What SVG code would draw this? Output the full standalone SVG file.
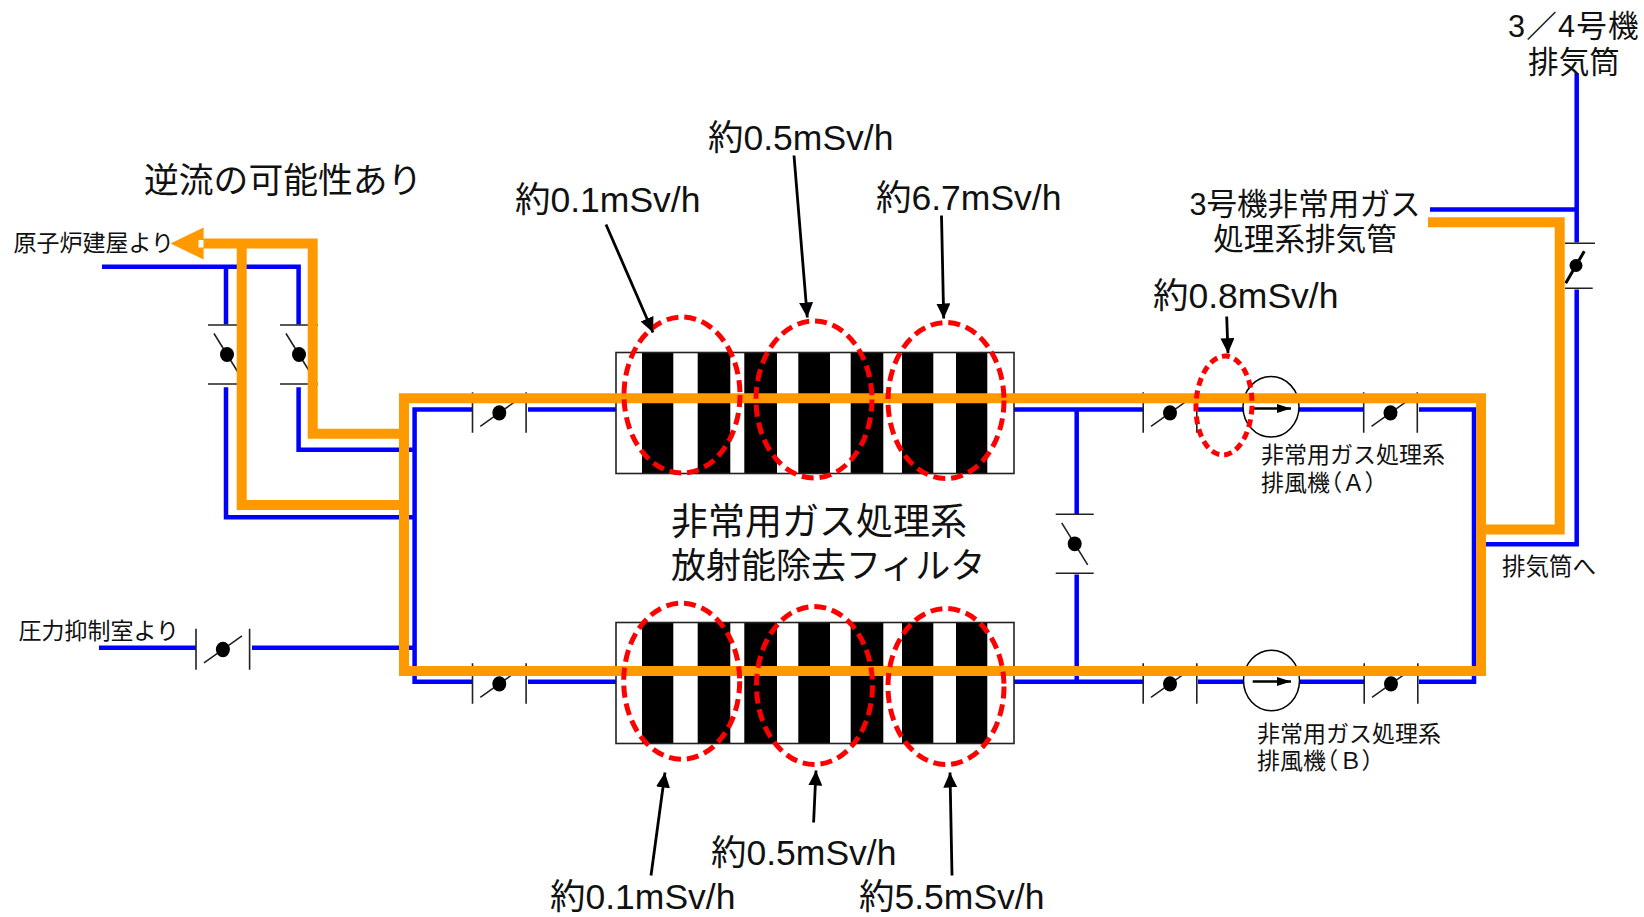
<svg xmlns="http://www.w3.org/2000/svg" width="1644" height="917" viewBox="0 0 1644 917">
<style>
text{font-family:"Liberation Sans","Noto Sans CJK JP",sans-serif;fill:#111}
.l{font-size:35.5px}.m{font-size:30.6px}.s{font-size:23px}.c{font-size:37px}.t{font-size:34.8px}
.p{font-feature-settings:"palt";letter-spacing:3px}
.b{fill:none;stroke:#00f;stroke-width:4.5}
.o{fill:none;stroke:#f90;stroke-width:10;stroke-linejoin:miter}
.f{stroke:#222;stroke-width:1.6;fill:none}
.k{fill:#000}
.e{fill:none;stroke:#f00;stroke-width:5;stroke-dasharray:12 6}
.a{stroke:#000;stroke-width:2.8;fill:none;marker-end:url(#h)}
.fa{fill:#fff;stroke:#000;stroke-width:1.5}
</style>
<defs>
<marker id="h" markerUnits="userSpaceOnUse" markerWidth="18" markerHeight="16" refX="15" refY="7" orient="auto"><path d="M0 0L15 7L0 14Z" fill="#000"/></marker>
<marker id="hf" markerUnits="userSpaceOnUse" markerWidth="16" markerHeight="10" refX="14" refY="4.5" orient="auto"><path d="M0 0L14 4.5L0 9Z" fill="#000"/></marker>
<g id="vh"><path class="f" d="M-26.8 -20.5V20M26.8 -20.5V20M-19 13.5L19 -13.5"/><ellipse rx="7" ry="7.6" class="k"/></g>
<g id="vv"><path class="f" d="M-19 -29.5H19M-19 29.5H19M-13 -21L13 21"/><ellipse rx="7" ry="7.4" class="k"/></g>
<g id="bars"><path class="k" d="M642 0H673.3V121H642ZM697.7 0H730.3V121H697.7ZM744.3 0H777V121H744.3ZM798.3 0H830V121H798.3ZM850.7 0H883.3V121H850.7ZM902 0H933.3V121H902ZM956 0H987.3V121H956Z"/><rect x="616" y="0" width="398" height="121" class="f"/></g>
</defs>
<rect width="1644" height="917" fill="#fff"/>
<g transform="translate(0 .5)">
<g id="connectors">
<path class="b" d="M102 266.3H298.6V324M226 266.3V324M298.6 386.7V449.3H414.6M226 386.7V516.7H414.6"/>
<path class="b" d="M99 647.3H196M252 647.3H414.6"/>
<path class="b" d="M472 409H414.6V681.3H472M528 409H616M1014 409H1143M1198 409H1244M1299 409H1363M1419 409H1474V681.3H1419"/>
<path class="b" d="M528 681.3H616M1014 681.3H1143M1198 681.3H1244M1299 681.3H1364M1076.7 409V514M1076.7 574V681.3"/>
<path class="b" d="M1576.7 72.7V242M1430 209H1576.7M1576.7 289V543.7H1486"/>
</g>
<g id="filter-a" transform="translate(0 352)"><use href="#bars"/></g>
<g id="filter-b" transform="translate(0 622)"><use href="#bars"/></g>
<g id="valve-1"><use href="#vv" x="227" y="354"/></g>
<g id="valve-2"><use href="#vv" x="299" y="354"/></g>
<g id="valve-3"><use href="#vh" x="499.3" y="412.3"/></g>
<g id="valve-4"><use href="#vh" x="499.3" y="683.3"/></g>
<g id="valve-5"><path class="f" d="M196 628.3V669.3M249.6 628.3V669.3M204 662.3L242 635.3"/><ellipse cx="222.9" cy="649" rx="7" ry="7.8" class="k"/></g>
<g id="valve-6"><use href="#vh" x="1170" y="412.3"/></g>
<g id="valve-7"><use href="#vh" x="1390.5" y="412.3"/></g>
<g id="valve-8"><use href="#vh" x="1170" y="683.3"/></g>
<g id="valve-9"><use href="#vh" x="1391" y="683.3"/></g>
<g id="valve-10"><use href="#vv" x="1074.7" y="543.3"/></g>
<g id="valve-11"><path class="f" d="M1565 242.7H1595M1565 287.7H1592.7"/><path d="M1565.7 282.7L1584.3 250.7" stroke="#000" stroke-width="3" fill="none"/><ellipse cx="1576" cy="265" rx="6.5" ry="6.5" class="k"/></g>
<g id="fan-a"><ellipse cx="1271" cy="406.3" rx="28" ry="30.3" class="fa"/><path d="M1252.7 408H1291" stroke="#000" stroke-width="2.6" marker-end="url(#hf)"/></g>
<g id="fan-b"><ellipse cx="1271.5" cy="680" rx="28" ry="30.3" class="fa"/><path d="M1252.7 681H1291" stroke="#000" stroke-width="2.6" marker-end="url(#hf)"/></g>
<g id="backflow">
<path class="o" d="M404 397.7H1481V670.5H404Z"/>
<path class="o" d="M203 243H312.7V433.3H404M241.7 243V504.5H404M1428 221.7H1559.7V529H1481"/>
<path d="M170.5 243L203.6 227V259Z" fill="#f90"/>
<rect x="198.5" y="239.5" width="5" height="7.5" fill="#fff"/>
</g>
<g id="hot-spots">
<ellipse class="e" cx="682" cy="394.5" rx="58" ry="78"/>
<ellipse class="e" cx="814" cy="399" rx="58" ry="78.5"/>
<ellipse class="e" cx="946" cy="400" rx="58" ry="78"/>
<ellipse class="e" cx="681.7" cy="680.7" rx="58" ry="78"/>
<ellipse class="e" cx="814.5" cy="685" rx="58" ry="79"/>
<ellipse class="e" cx="946" cy="686" rx="58" ry="78"/>
<ellipse class="e" style="stroke-dasharray:8 5" cx="1224" cy="405" rx="28" ry="49.5" transform="rotate(2 1224 405)"/>
</g>
<g id="pointers">
<path class="a" d="M606 224L653 332"/>
<path class="a" d="M794 155L807.3 317"/>
<path class="a" d="M941.5 215L943.7 318"/>
<path class="a" d="M1226.7 316L1228 352.7"/>
<path class="a" d="M651 875L665 772"/>
<path class="a" d="M813.6 822L816 770"/>
<path class="a" d="M952 875L950 772"/>
</g>
<g id="labels">
<text class="t" x="144" y="192">逆流の可能性あり</text>
<text class="s" x="13.5" y="250.5">原子炉建屋より</text>
<text class="s" x="18.5" y="638">圧力抑制室より</text>
<text class="l" x="515" y="211">約0.1mSv/h</text>
<text class="l" x="708" y="149">約0.5mSv/h</text>
<text class="l" x="876" y="209">約6.7mSv/h</text>
<text class="l" x="1153" y="307">約0.8mSv/h</text>
<text class="l" x="550" y="908">約0.1mSv/h</text>
<text class="l" x="711" y="864">約0.5mSv/h</text>
<text class="l" x="859" y="908">約5.5mSv/h</text>
<text class="c" x="671" y="534">非常用ガス処理系</text>
<text class="c" style="font-size:35px" x="671" y="577">放射能除去フィルタ</text>
<text class="s" x="1261" y="462.5">非常用ガス処理系</text>
<text class="s" x="1261" y="490">排風機<tspan class="p">（Ａ）</tspan></text>
<text class="s" x="1257" y="741">非常用ガス処理系</text>
<text class="s" x="1257" y="768">排風機<tspan class="p">（Ｂ）</tspan></text>
<text class="s" style="font-size:23.5px" x="1502" y="574.5">排気筒へ</text>
<text class="m" x="1305" y="214" text-anchor="middle">3号機非常用ガス</text>
<text class="m" x="1305" y="249" text-anchor="middle">処理系排気管</text>
<text class="m" x="1574" y="36" text-anchor="middle" style="letter-spacing:1.2px">3／4号機</text>
<text class="m" x="1574" y="72" text-anchor="middle">排気筒</text>
</g>
</g>
</svg>
